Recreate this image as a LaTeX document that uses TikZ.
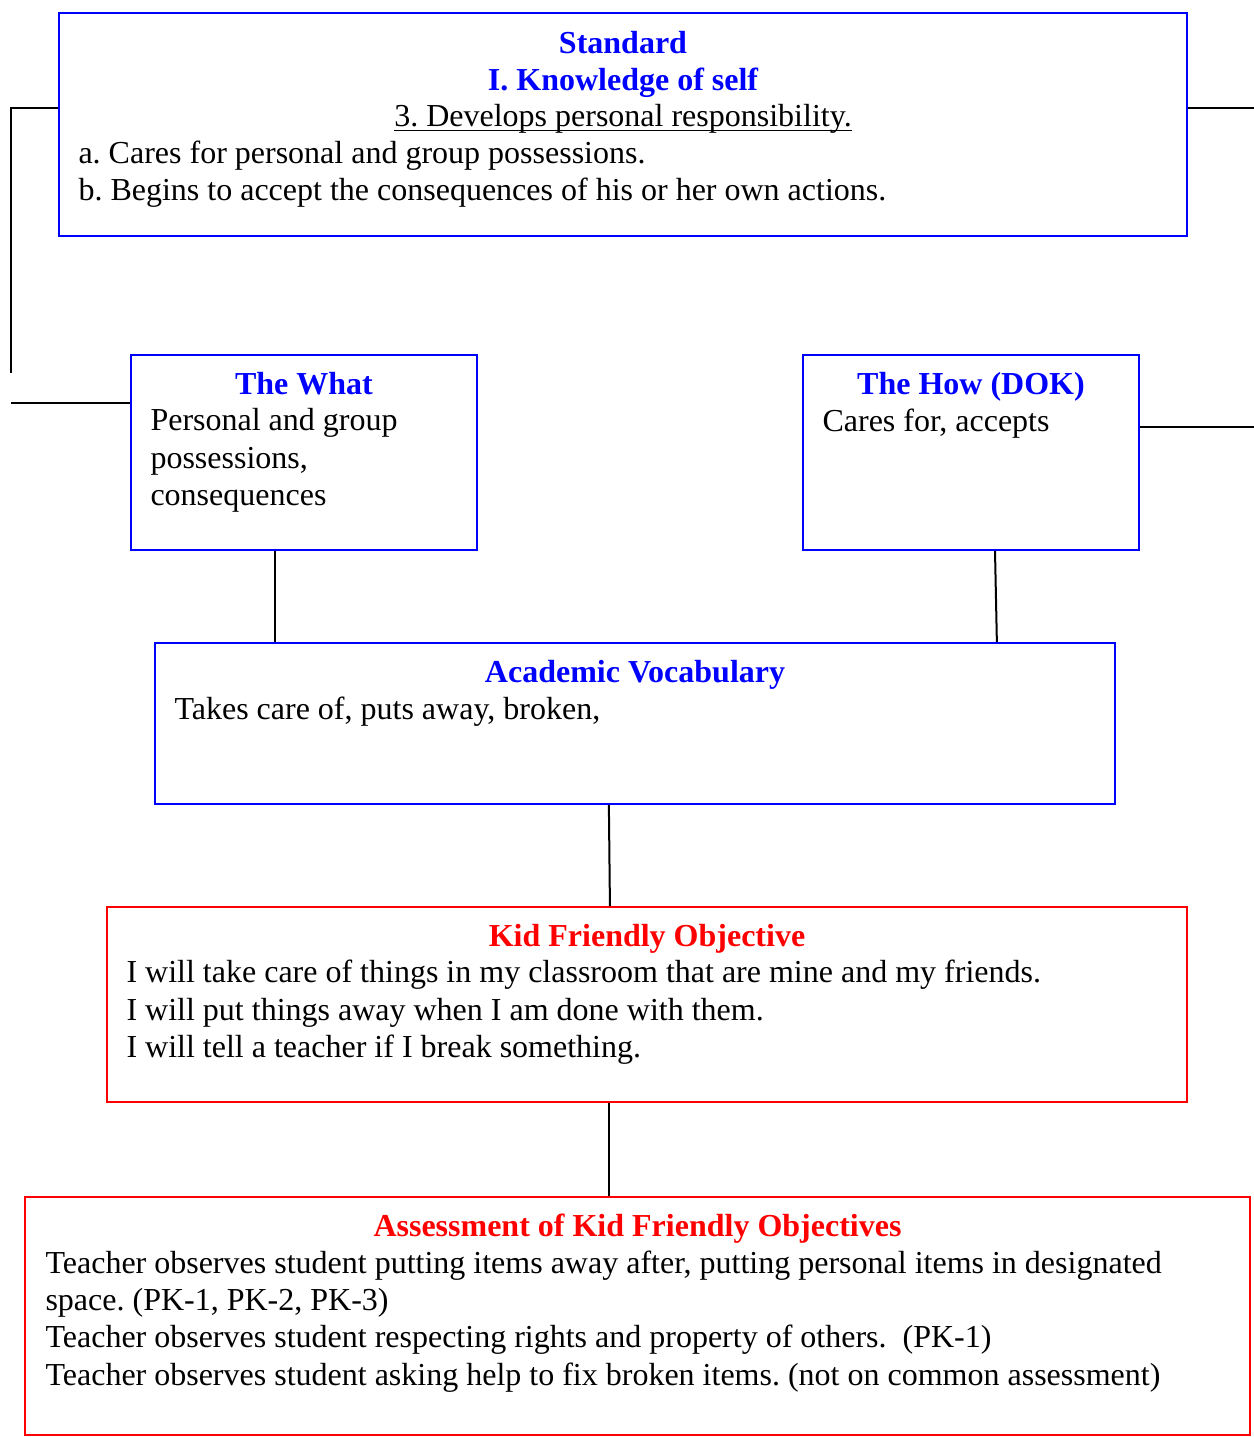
\documentclass[tikz,border=0pt]{standalone}
\usepackage{fontspec}
\setmainfont{Liberation Serif}
\usepackage{tikz}
\usetikzlibrary{positioning, fit}

\begin{document}
\begin{tikzpicture}[x=0.375pt, y=-0.375pt,
        bluebox/.style={draw=blue, line width=0.75pt, inner sep=0pt},
        redbox/.style={draw=red, line width=0.75pt, inner sep=0pt},
        wire/.style={draw=black, line width=0.75pt},
        head/.style={inner sep=0pt, anchor=base, align=center, font=\fontsize{12}{14}\selectfont\bfseries},
        txt/.style={inner sep=0pt, anchor=base west, align=left, font=\fontsize{12}{14}\selectfont\frenchspacing}]
            \useasboundingbox (0,0) rectangle (1254,1437);

            \node[bluebox, fit={(59,13) (1187,236)}] (std) {};
            \node[bluebox, fit={(131,355) (477,550)}] (what) {};
            \node[bluebox, fit={(803,355) (1139,550)}] (how) {};
            \node[bluebox, fit={(155,643) (1115,804)}] (acad) {};
            \node[redbox, fit={(107,907) (1187,1102)}] (kid) {};
            \node[redbox, fit={(25,1197) (1250,1435)}] (asmt) {};

            % multi-line nodes sit on their last baseline
            \node[head, text=blue] (stdhead) at ([shift={(0,78.5)}]std.north) {Standard\\ I. Knowledge of self};
            \node[txt, anchor=base] (stdsub) at ([shift={(0,115)}]std.north) {\underbar{3. Develops personal responsibility.}};
            \node[txt] (stdtext) at ([shift={(20,188.5)}]std.north west) {%
                a. Cares for personal and group possessions.\\
                b. Begins to accept the consequences of his or her own actions.};

            \node[head, text=blue] (whathead) at ([shift={(0,40.5)}]what.north) {The What};
            \node[txt] (whattext) at ([shift={(20,151.5)}]what.north west) {Personal and group\\ possessions,\\ consequences};

            \node[head, text=blue] (howhead) at ([shift={(0,40.5)}]how.north) {The How (DOK)};
            \node[txt] (howtext) at ([shift={(20,77)}]how.north west) {Cares for, accepts};

            \node[head, text=blue] (acadhead) at ([shift={(0,40.5)}]acad.north) {Academic Vocabulary};
            \node[txt] (acadtext) at ([shift={(20,77)}]acad.north west) {Takes care of, puts away, broken,};

            \node[head, text=red] (kidhead) at ([shift={(0,40.5)}]kid.north) {Kid Friendly Objective};
            \node[txt] (kidtext) at ([shift={(20,151.5)}]kid.north west) {%
                I will take care of things in my classroom that are mine and my friends.\\
                I will put things away when I am done with them.\\
                I will tell a teacher if I break something.};

            \node[head, text=red] (asmthead) at ([shift={(0,40.5)}]asmt.north) {Assessment of Kid Friendly Objectives};
            \node[txt] (asmttext) at ([shift={(21,189)}]asmt.north west) {%
                Teacher observes student putting items away after, putting personal items in designated\\
                space. (PK-1, PK-2, PK-3)\\
                Teacher observes student respecting rights and property of others.~ (PK-1)\\
                Teacher observes student asking help to fix broken items. (not on common assessment)};

            \coordinate (ltop) at (11,108);
            \coordinate (lbot) at (11,373);
            \coordinate (lstub) at (11,403);
            \coordinate (rtop) at (1254,108);
            \coordinate (rmid) at (1254,427);

            \draw[wire] (std.west |- ltop) -- (ltop) -- (lbot);
            \draw[wire] (lstub) -- (what.west |- lstub);
            \draw[wire] (std.east |- rtop) -- (rtop);
            \draw[wire] (how.east |- rmid) -- (rmid);
            \draw[wire] ([xshift=-10.9pt]what.south) -- ([xshift=-10.9pt]what.south |- acad.north);
            \draw[wire] ([xshift=9pt]how.south) -- ([xshift=9.7pt]how.south |- acad.north);
            \draw[wire] ([xshift=-9.8pt]acad.south) -- ([xshift=-9.4pt]acad.south |- kid.north);
            \draw[wire] ([xshift=-14.3pt]kid.south) -- ([xshift=-14.3pt]kid.south |- asmt.north);
        \end{tikzpicture}
\end{document}
